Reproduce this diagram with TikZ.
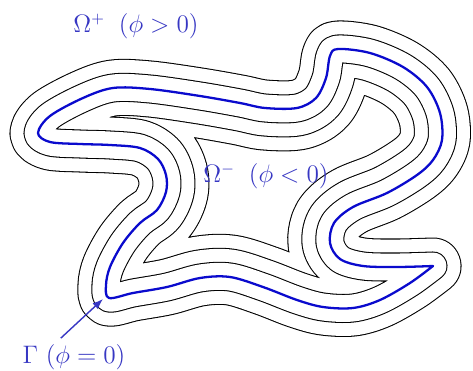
\documentclass[tikz,border=0pt]{standalone}
\usepackage{amsmath,amssymb}
\usepackage{xcolor}
\usepackage{tikz}
\usetikzlibrary{arrows.meta}

\definecolor{curveblue}{RGB}{10,10,205}
\definecolor{labelblue}{RGB}{55,55,195}
% zero level set, coordinates in pixels (y downwards)
\newcommand{\GammaCurve}{plot[smooth, tension=0.55] coordinates {
  (433,266) (410,283) (380,300) (353,308) (323,307) (297,300) (263,287)
  (230,277) (200,278) (167,287) (133,293) (109,298) (106,285) (110,267)
  (123,243) (140,223) (157,210) (166,192) (166,175) (158,159) (140,148)
  (110,145) (80,144) (50,142) (38,133) (50,116) (83,98) (113,88) (150,89)
  (200,96) (240,103) (265,108) (297,108) (316,98) (326,78) (330,56)
  (338,49) (370,53) (403,67) (427,87) (440,113) (442,140) (433,160)
  (417,175) (387,193) (353,207) (334,223) (330,243) (340,259) (363,266)
  (397,267) (433,266)} -- cycle}

\begin{document}
\begin{tikzpicture}[x=0.02cm, y=-0.02cm, >=Latex, line join=round,
  lbl/.style={text=labelblue, font=\fontsize{13.5}{16}\selectfont}]
  \useasboundingbox (0,0) rectangle (473,371);
  % level set phi = -3d, inside only
  \begin{scope}
    \clip \GammaCurve;
    \draw[line width=1.68cm+0.6pt] \GammaCurve;
    \draw[white, line width=1.68cm-0.6pt] \GammaCurve;
  \end{scope}
  % level sets phi = +-2d and phi = +-d
  \foreach \w in {1.12, 0.56} {
    \draw[line width=\w cm+0.6pt] \GammaCurve;
    \draw[white, line width=\w cm-0.6pt] \GammaCurve;
  }
  \draw[curveblue, line width=1.3pt] \GammaCurve;

  \node[lbl] (pos) at (136,26) {$\Omega^+\;\;(\phi>0)$};
  \node[lbl] (neg) at (266,176) {$\Omega^-\;\;(\phi<0)$};
  \node[lbl] (gam) at (74,357) {$\Gamma\ (\phi=0)$};
  \coordinate (gtip) at (103,299);
  \draw[-{Latex[length=6pt,width=4.5pt]}, labelblue, thick] (gam.125) -- (gtip);
\end{tikzpicture}
\end{document}
